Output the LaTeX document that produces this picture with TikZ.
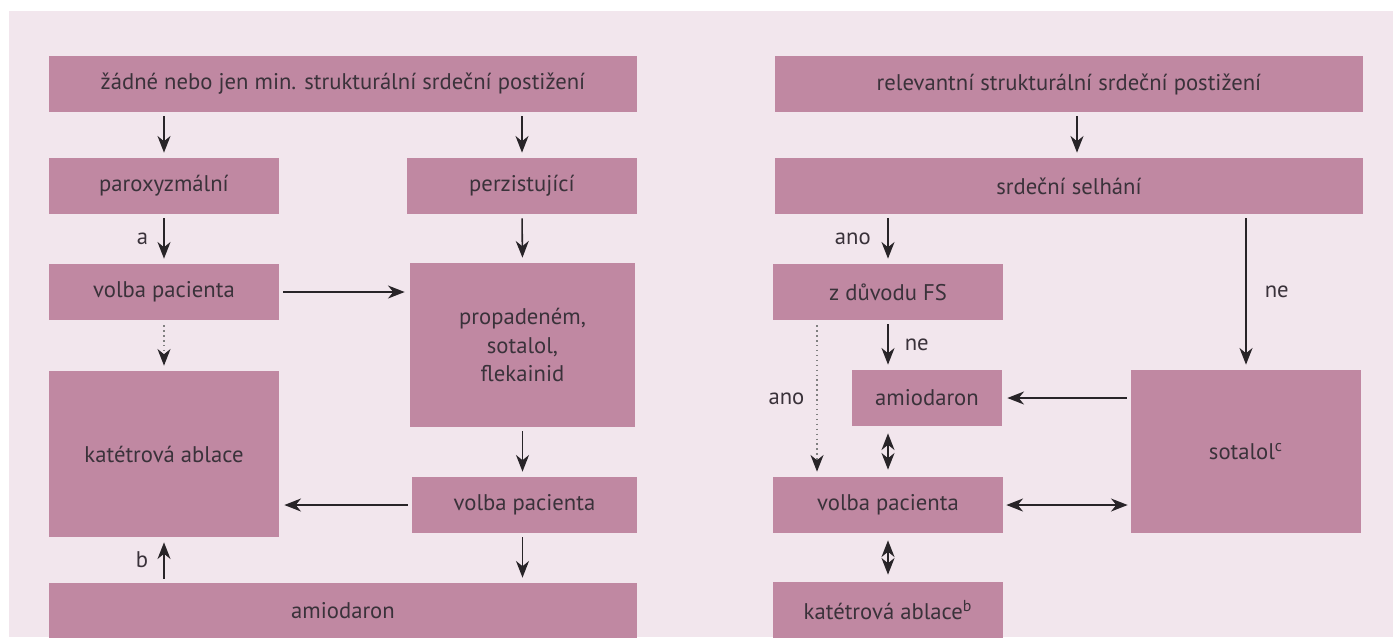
\documentclass[tikz,border=0pt]{standalone}
\usepackage{fontspec}
\setmainfont{PT Sans}
\usetikzlibrary{arrows.meta}
\definecolor{panel}{RGB}{242,230,237}
\definecolor{boxfill}{RGB}{192,136,162}
\definecolor{ink}{RGB}{40,36,40}
\definecolor{txt}{RGB}{58,50,58}

\begin{document}
\begin{tikzpicture}[x=0.02cm,y=-0.02cm,
  box/.style={fill=boxfill,text=txt,inner sep=0pt,minimum height=1.12cm,align=center,font=\fontsize{12.9}{16}\selectfont},
  lbl/.style={text=txt,inner sep=0pt,font=\fontsize{12.9}{15}\selectfont},
  arr/.style={draw=ink,line width=0.9pt,-{Stealth[length=9.5pt,width=7.4pt,inset=3pt]},shorten <=0.08cm,shorten >=0.1cm},
  dotarr/.style={draw=gray,line width=0.8pt,dotted,-{Stealth[length=9.5pt,width=7.4pt,inset=3pt,color=ink,sep=0pt]},shorten <=0.1cm,shorten >=0.1cm},
  dblarr/.style={draw=ink,line width=0.9pt,{Stealth[length=9.5pt,width=7.4pt,inset=3pt]}-{Stealth[length=9.5pt,width=7.4pt,inset=3pt]},shorten <=0.06cm,shorten >=0.06cm}]
\useasboundingbox (0,0) rectangle (1393,637);
\clip (0,0) rectangle (1393,637);
\fill[panel] (9,11) rectangle (1393,637);

\node[box,minimum width=11.76cm] (noshd) at (343,84) {žádné nebo jen min. strukturální srdeční postižení};
\node[box,minimum width=4.6cm] (parox) at (164,186) {paroxyzmální};
\node[box,minimum width=4.6cm] (perz) at (522,186) {perzistující};
\node[box,minimum width=4.6cm] (volbaA) at (164,292) {volba pacienta};
\node[box,minimum width=4.5cm,minimum height=3.28cm] (propad) at (522.5,345) {propadeném,\\sotalol,\\flekainid};
\node[box,minimum width=4.6cm,minimum height=3.32cm] (ablA) at (164,454) {katétrová ablace};
\node[box,minimum width=4.5cm] (volbaB) at (524.5,505) {volba pacienta};
\node[box,minimum width=11.76cm] (amioA) at (343,611) {amiodaron};

\node[box,minimum width=11.76cm] (rshd) at (1069,84) {relevantní strukturální srdeční postižení};
\node[box,minimum width=11.76cm] (hf) at (1069,186) {srdeční selhání};
\node[box,minimum width=4.6cm] (fs) at (888,292) {z důvodu FS};
\node[box,minimum width=3cm] (amioB) at (927,398) {amiodaron};
\node[box,minimum width=4.6cm,minimum height=3.26cm] (sotalol) at (1246,451.5) {sotalol\textsuperscript{c}};
\node[box,minimum width=4.6cm] (volbaC) at (888,505) {volba pacienta};
\node[box,minimum width=4.6cm] (ablB) at (888,610) {katétrová ablace\textsuperscript{b}};

\draw[arr] (parox.north |- noshd.south) -- (parox.north);
\draw[arr] (perz.north |- noshd.south) -- (perz.north);
\draw[arr] (parox.south) -- (volbaA.north) node[lbl,midway,left=0.3cm] {a};
\draw[arr] (perz.south) -- (propad.north);
\draw[arr] (volbaA.east) -- (propad.west |- volbaA.east);
\draw[dotarr] (volbaA.south) -- (ablA.north);
\draw[arr] (propad.south) -- (propad.south |- volbaB.north);
\draw[arr] (volbaB.west) -- (ablA.east |- volbaB.west);
\draw[arr] (propad.south |- volbaB.south) -- (propad.south |- amioA.north);
\draw[arr] (ablA.south |- amioA.north) -- (ablA.south) node[lbl,midway,left=0.3cm] {b};

\draw[arr] ([xshift=0.16cm]rshd.south) -- ([xshift=0.16cm]hf.north);
\draw[arr] (fs.north |- hf.south) -- (fs.north) node[lbl,midway,left=0.33cm] {ano};
\draw[arr] (sotalol.north |- hf.south) -- (sotalol.north) node[lbl,midway,right=0.36cm] {ne};
\draw[arr] (fs.south) -- (fs.south |- amioB.north) node[lbl,midway,right=0.32cm] {ne};
\draw[dotarr] ([xshift=-1.42cm]fs.south) -- ([xshift=-1.42cm]volbaC.north) node[lbl,midway,left=0.24cm] {ano};
\draw[arr] (sotalol.west |- amioB.east) -- (amioB.east);
\draw[dblarr,shorten <=0.14cm,shorten >=0.14cm] (volbaC.north |- amioB.south) -- (volbaC.north);
\draw[dblarr] (volbaC.east) -- (sotalol.west |- volbaC.east);
\draw[dblarr,shorten <=0.14cm,shorten >=0.14cm] (volbaC.south) -- (ablB.north);
\end{tikzpicture}
\end{document}
